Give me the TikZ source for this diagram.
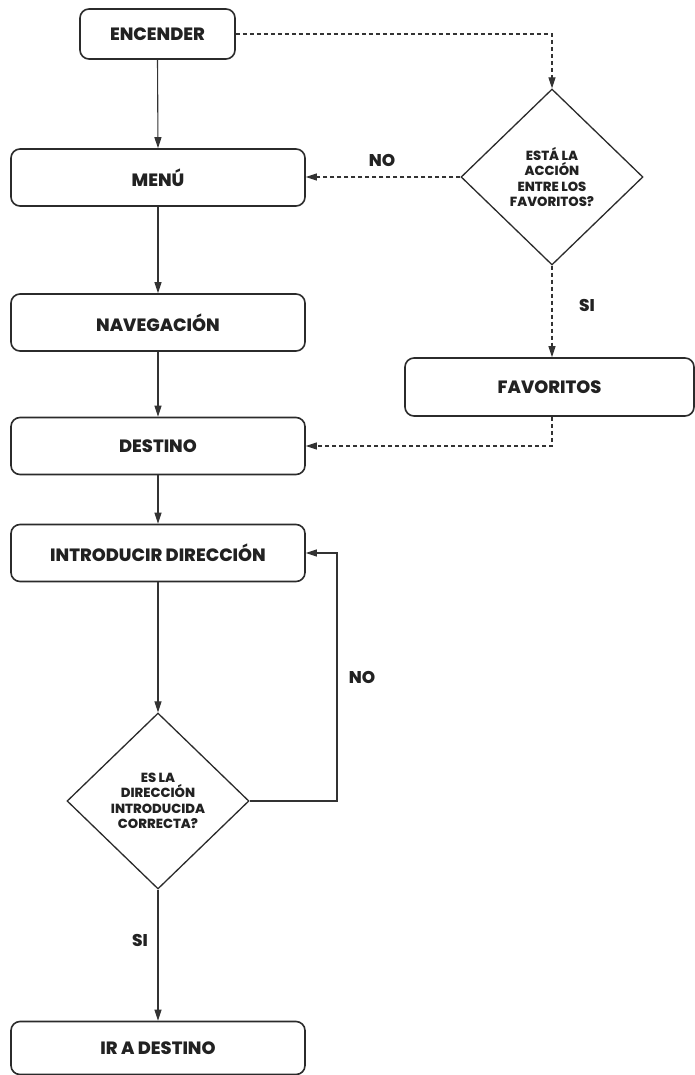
\documentclass[tikz,border=0pt]{standalone}
\usepackage{fontspec}
\setmainfont{Poppins}[BoldFont={Poppins ExtraBold}]
\usetikzlibrary{arrows.meta,shapes.geometric}
\definecolor{boxc}{HTML}{2B2B2B}
\definecolor{txt}{HTML}{222222}
\definecolor{linec}{HTML}{333333}
\begin{document}
\begin{tikzpicture}[x=1pt,y=-1pt,
  box/.style={draw=boxc, line width=1.6pt, rounded corners=9pt, inner sep=0pt,
    font=\bfseries\fontsize{17.8}{17.8}\selectfont, text=txt, minimum width=294pt, minimum height=57pt},
  decision/.style={diamond, draw=boxc, line width=1.3pt, inner sep=0pt, align=center,
    minimum width=182pt, minimum height=176pt, text=txt,
    font=\bfseries\fontsize{13.2}{15.5}\selectfont},
  lbl/.style={font=\bfseries\fontsize{17}{17}\selectfont, text=txt, inner sep=0pt},
  conn/.style={draw=linec, line width=1.1pt, -{Triangle[length=11pt,width=7pt]}},
  dconn/.style={conn, dash pattern=on 4pt off 3pt}]
\fill[white] (0,0) rectangle (695,1075);
\useasboundingbox (0,0) rectangle (695,1075);
\begin{scope}
\clip (0,0) rectangle (695,1075);
\node[box, minimum width=155pt, minimum height=50pt] (enc) at (157.5,34) {ENCENDER};
\node[box] (menu) at (158,177.5) {MENÚ};
\node[box] (nav) at (158,322.5) {NAVEGACIÓN};
\node[box] (dest) at (158,446) {DESTINO};
\node[box] (intro) at (158,553) {INTRODUCIR DIRECCIÓN};
\node[decision] (d2) at (158,801) {ES LA\\DIRECCIÓN\\INTRODUCIDA\\CORRECTA?};
\node[box, minimum height=53pt] (ir) at (158,1048) {IR A DESTINO};
\node[decision] (d1) at (552,177) {ESTÁ LA\\ACCIÓN\\ENTRE LOS\\FAVORITOS?};
\node[box, minimum width=289pt, minimum height=58pt] (fav) at (549.5,387) {FAVORITOS};
\end{scope}
\node[lbl] (no1) at (382,160) {NO};
\node[lbl] (si1) at (587,305) {SI};
\node[lbl] (no2) at (362,677) {NO};
\node[lbl] (si2) at (140,940) {SI};
\coordinate (loop) at (337,801);
% solid connectors
\draw[conn] (enc.south) -- (menu.north);
\draw[conn] (menu.south) -- (nav.north);
\draw[conn] (nav.south) -- (dest.north);
\draw[conn] (dest.south) -- (intro.north);
\draw[conn] (intro.south) -- (d2.north);
\draw[conn] (d2.south) -- (ir.north);
\draw[conn] (d2.east) -- (loop) |- (intro.east);
% dashed connectors
\draw[dconn] (enc.east) -| (d1.north);
\draw[dconn] (d1.west) -- (d1.west -| menu.east);
\draw[dconn] (d1.south) -- (d1.south |- fav.north);
\draw[dconn] (d1.south |- fav.south) |- (dest.east);
\end{tikzpicture}
\end{document}
